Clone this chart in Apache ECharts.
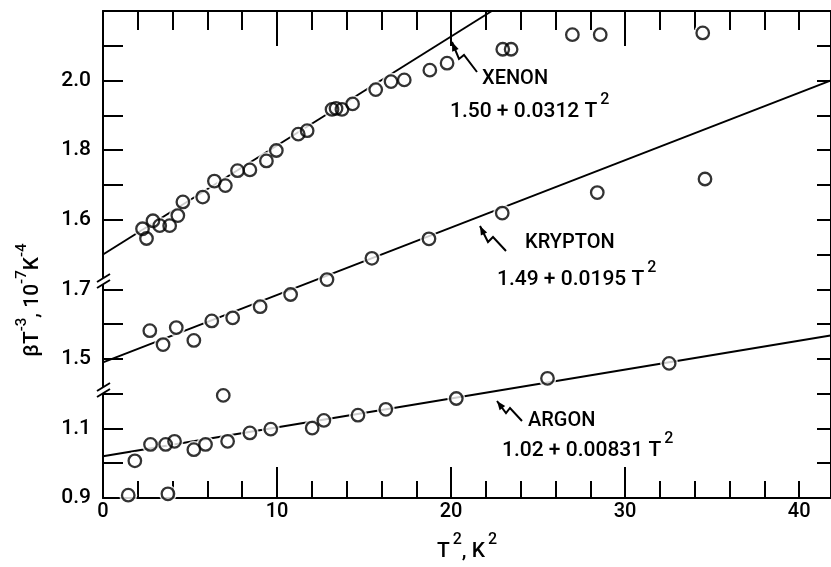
<!DOCTYPE html>
<html>
<head>
<meta charset="utf-8">
<script src="https://cdn.jsdelivr.net/npm/echarts@6/dist/echarts.min.js"></script>
<style>
  html, body { margin: 0; padding: 0; background: #fff; }
  #chart { width: 831px; height: 567px; }
</style>
</head>
<body>
<div id="chart"></div>
<script>
// T^2 in K^2, beta*T^-3 in 1e-7 K^-4
const xenonT2 = [2.27, 2.50, 2.87, 3.26, 3.83, 4.30, 4.59, 5.73, 6.40, 7.03, 7.73, 8.44, 9.39, 9.96, 11.22,
  11.73, 13.16, 13.39, 13.73, 14.34, 15.67, 16.55, 17.31, 18.78, 19.77, 22.97, 23.45, 26.97, 28.57, 34.46]
const xenonBeta = [1.574, 1.546, 1.597, 1.583, 1.583, 1.612, 1.651, 1.665, 1.711, 1.698, 1.741, 1.743, 1.769, 1.799, 1.846,
  1.856, 1.917, 1.920, 1.917, 1.933, 1.974, 1.997, 2.002, 2.030, 2.050, 2.090, 2.090, 2.132, 2.132, 2.137]

const kryptonT2 = [2.69, 3.45, 4.21, 5.22, 6.25, 7.45, 9.03, 10.78, 12.87, 15.45, 18.73, 22.94, 28.40, 34.59]
const kryptonBeta = [1.581, 1.541, 1.590, 1.553, 1.609, 1.618, 1.650, 1.685, 1.728, 1.789, 1.845, 1.919, 1.978, 2.017]

const argonT2 = [1.45, 1.83, 2.73, 3.60, 4.11, 3.73, 5.22, 5.89, 6.91, 7.16, 8.44, 9.64, 12.02, 12.69, 14.65,
  16.25, 20.30, 25.54, 32.53]
const argonBeta = [0.908, 1.007, 1.054, 1.054, 1.063, 0.912, 1.039, 1.054, 1.195, 1.063, 1.087, 1.098, 1.101, 1.123, 1.138,
  1.155, 1.186, 1.244, 1.287]

// fitted straight lines, end points as drawn
const xenonFit = [[0, 1.50], [22.34, 2.20]]
const kryptonFit = [[0, 1.49], [41.8, 2.30]]
const argonFit = [[0, 1.02], [41.8, 1.367]]

// axis ranges (each gas has its own offset scale on the broken axis)
const xMax = 41.83
const xenonRange = [0.8, 2.2]
const kryptonRange = [1.1, 2.5]
const argonRange = [0.9, 2.3]

const xLabels = [0, 10, 20, 30, 40]
const xMajorTicks = [10, 20, 30]
const xMinorTicks = [2, 4, 6, 8, 12, 14, 16, 18, 22, 24, 26, 28, 32, 34, 36, 38, 40]
const xenonTicks = [1.6, 1.7, 1.8, 1.9, 2.0, 2.1]
const xenonLabels = [1.6, 1.8, 2.0]
const kryptonTicks = [1.5, 1.6, 1.7]
const kryptonLabels = [1.5, 1.7]
const argonTicks = [1.0, 1.1, 1.2]
const argonLabels = [0.9, 1.1]

const ink = '#000'
const font = 'Roboto'
const weight = 500

const pair = (xs, ys) => xs.map((x, i) => [x, ys[i]])

function xAxisDef(position, ticks, len, showLine, labels) {
  return {
    type: 'value',
    position,
    min: 0,
    max: xMax,
    splitLine: { show: false },
    axisLine: { show: showLine, onZero: false, lineStyle: { color: ink, width: 2 } },
    axisTick: { show: true, inside: true, length: len, customValues: ticks, lineStyle: { color: ink, width: 2 } },
    axisLabel: labels
      ? { show: true, customValues: labels, fontSize: 20, fontFamily: font, fontWeight: weight, color: ink, margin: 4 }
      : { show: false }
  }
}

function yAxisDef(range, ticks, labels, showLine) {
  return {
    type: 'value',
    position: 'left',
    min: range[0],
    max: range[1],
    splitLine: { show: false },
    axisLine: { show: showLine, onZero: false, lineStyle: { color: ink, width: 2 } },
    axisTick: { show: true, inside: true, length: 20, customValues: ticks, lineStyle: { color: ink, width: 2 } },
    axisLabel: {
      show: true, customValues: labels, fontSize: 21, fontFamily: font, fontWeight: weight, color: ink, margin: 12,
      formatter: (v) => v.toFixed(1)
    }
  }
}

function fitLine(data, yIndex) {
  return {
    type: 'line', data, yAxisIndex: yIndex, symbol: 'none', z: 2, silent: true,
    lineStyle: { color: ink, width: 2 }
  }
}

function points(data, yIndex) {
  return [
    {
      type: 'scatter', data, yAxisIndex: yIndex, symbol: 'circle', symbolSize: 18, z: 3, silent: true,
      itemStyle: { color: '#fff', borderWidth: 0 }
    },
    {
      type: 'scatter', data, yAxisIndex: yIndex, symbol: 'circle', symbolSize: 12.5, z: 4,
      itemStyle: { color: 'rgba(0,0,0,0)', borderColor: ink, borderWidth: 2.3 }
    }
  ]
}

function arrow(pts) {
  const tip = pts[0], from = pts[1]
  const dx = tip[0] - from[0], dy = tip[1] - from[1]
  const d = Math.hypot(dx, dy)
  const ux = dx / d, uy = dy / d
  const bx = tip[0] - ux * 9, by = tip[1] - uy * 9
  return [
    { type: 'polyline', z: 50, shape: { points: pts }, style: { stroke: ink, lineWidth: 2, fill: null } },
    {
      type: 'polygon', z: 50,
      shape: { points: [tip, [bx - uy * 3.5, by + ux * 3.5], [bx + uy * 3.5, by - ux * 3.5]] },
      style: { fill: ink }
    }
  ]
}

function axisBreak(c) {
  return [
    { type: 'rect', z: 50, shape: { x: 99, y: c - 3, width: 8, height: 6 }, style: { fill: '#fff' } },
    { type: 'line', z: 51, shape: { x1: 97, y1: c + 1, x2: 110, y2: c - 7 }, style: { stroke: ink, lineWidth: 2 } },
    { type: 'line', z: 51, shape: { x1: 97, y1: c + 7, x2: 110, y2: c - 1 }, style: { stroke: ink, lineWidth: 2 } }
  ]
}

const richEq = {
  a: { fontSize: 21, fontFamily: font, fontWeight: weight, color: ink, lineHeight: 30, verticalAlign: 'bottom' },
  s: { fontSize: 16, fontFamily: font, fontWeight: weight, color: ink, lineHeight: 16, verticalAlign: 'top', padding: [0, 0, 0, 3] }
}

function label(x, y, text) {
  return {
    type: 'text', z: 50, x, y,
    style: { text, fontSize: 20, fontFamily: font, fontWeight: weight, fill: ink, verticalAlign: 'middle' }
  }
}

function equation(x, y, text) {
  return { type: 'text', z: 50, x, y, style: { text, rich: richEq, fill: ink, verticalAlign: 'middle' } }
}

const chart = echarts.init(document.getElementById('chart'), null, { renderer: 'canvas' })

const option = {
  animation: false,
  backgroundColor: '#fff',
  textStyle: { fontFamily: font, color: ink },
  grid: { left: 103, right: -4, top: 11, bottom: 61 },
  xAxis: [
    Object.assign(xAxisDef('bottom', xMajorTicks, 31, true, xLabels), {
      name: '{a|T}{s|2}{a|, K}{s|2}',
      nameLocation: 'middle',
      nameGap: 34,
      nameTextStyle: { rich: richEq }
    }),
    xAxisDef('bottom', xMinorTicks, 17, false, null),
    xAxisDef('top', xMajorTicks, 35, true, null),
    xAxisDef('top', xMinorTicks, 19, false, null)
  ],
  yAxis: [
    yAxisDef(xenonRange, xenonTicks, xenonLabels, true),
    yAxisDef(kryptonRange, kryptonTicks, kryptonLabels, false),
    yAxisDef(argonRange, argonTicks, argonLabels, false),
    {
      type: 'value', position: 'right', min: xenonRange[0], max: xenonRange[1], interval: 0.1,
      splitLine: { show: false },
      axisLine: { show: true, onZero: false, lineStyle: { color: ink, width: 2 } },
      axisTick: { show: true, inside: true, length: 14, lineStyle: { color: ink, width: 2 } },
      axisLabel: { show: false }
    }
  ],
  series: [
    fitLine(xenonFit, 0),
    fitLine(kryptonFit, 1),
    fitLine(argonFit, 2),
    ...points(pair(xenonT2, xenonBeta), 0),
    ...points(pair(kryptonT2, kryptonBeta), 1),
    ...points(pair(argonT2, argonBeta), 2)
  ],
  graphic: [
    ...axisBreak(281),
    ...axisBreak(390),
    {
      type: 'text', z: 50, x: 29, y: 300, rotation: Math.PI / 2,
      style: {
        text: '{a|βT}{s|-3}{a|, 10}{s|-7}{a|K}{s|-4}',
        align: 'center', verticalAlign: 'middle', fill: ink,
        rich: {
          a: { fontSize: 21, fontFamily: font, fontWeight: weight, color: ink, lineHeight: 28, verticalAlign: 'bottom' },
          s: { fontSize: 15, fontFamily: font, fontWeight: weight, color: ink, lineHeight: 15, verticalAlign: 'top' }
        }
      }
    },
    ...arrow([[452, 42], [459, 59], [464, 55], [477, 72]]),
    label(482, 79, 'XENON'),
    equation(450, 107, '{a|1.50 + 0.0312 T}{s|2}'),
    ...arrow([[480, 226], [488, 242], [493, 237], [506, 251]]),
    label(525, 243, 'KRYPTON'),
    equation(497, 275, '{a|1.49 + 0.0195 T}{s|2}'),
    ...arrow([[497, 401], [506, 413], [510, 408], [522, 421]]),
    label(528, 421, 'ARGON'),
    equation(502, 446, '{a|1.02 + 0.00831 T}{s|2}')
  ]
}

chart.setOption(option)
</script>
</body>
</html>
